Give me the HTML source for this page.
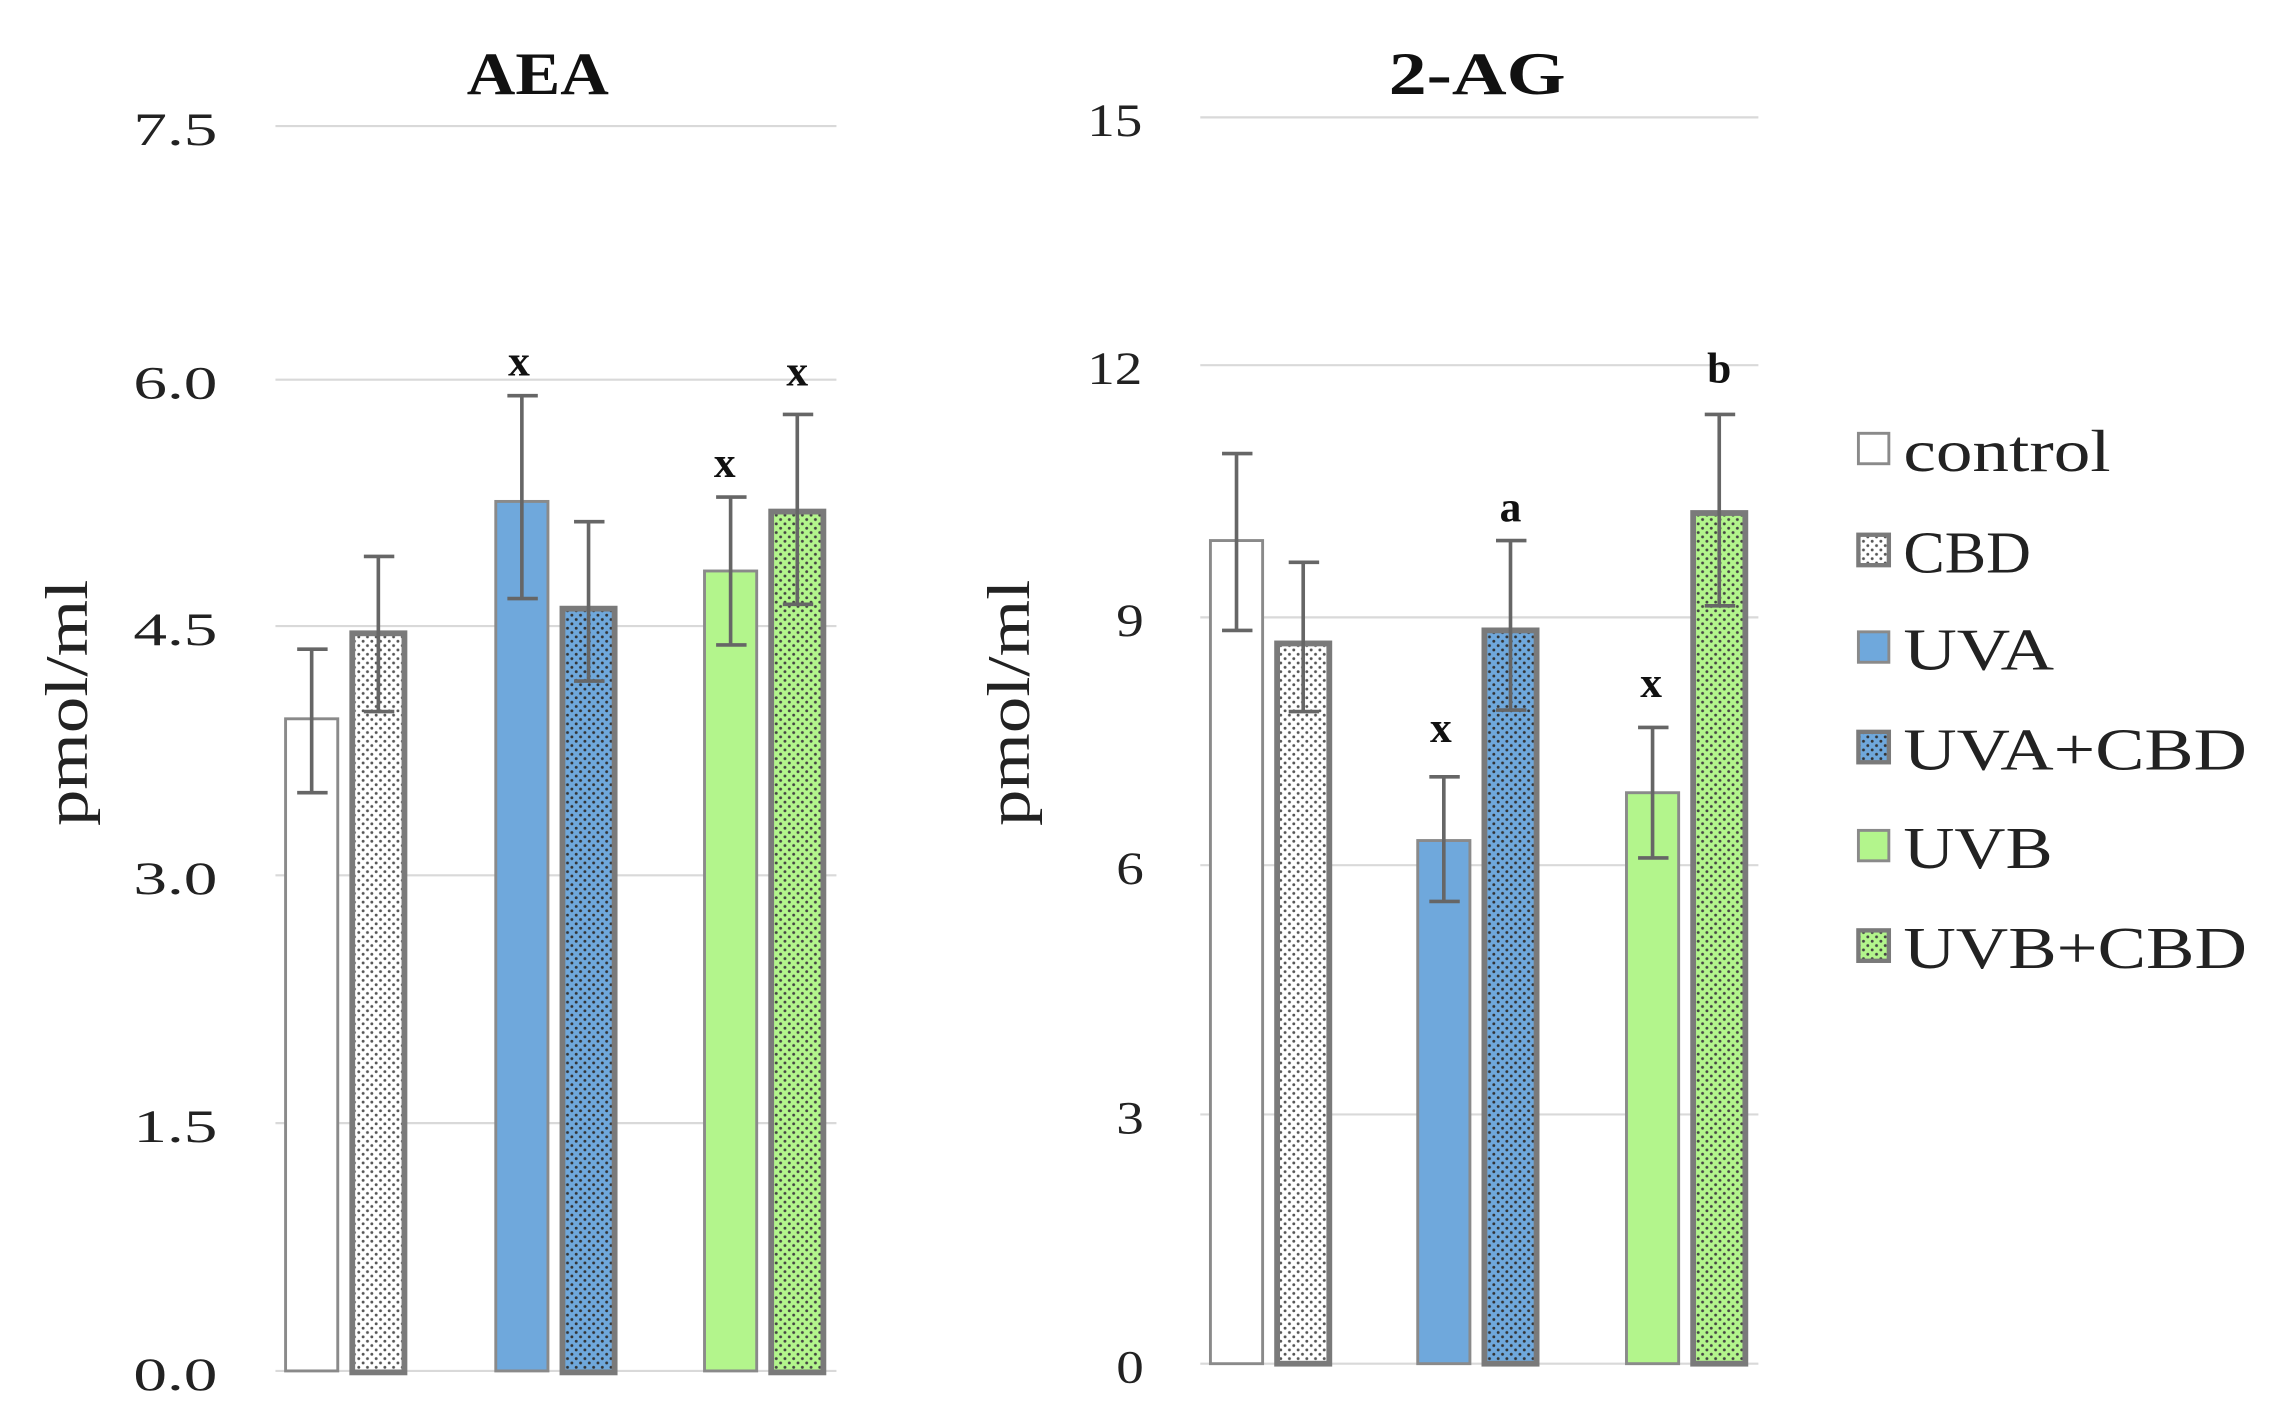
<!DOCTYPE html>
<html><head><meta charset="utf-8"><style>html,body{margin:0;padding:0;background:#fff}svg{display:block}</style></head><body>
<svg width="2273" height="1426" viewBox="0 0 1568 984" preserveAspectRatio="none" xmlns="http://www.w3.org/2000/svg" font-family="'Liberation Serif',serif">
<defs>
<pattern id="pw" width="6" height="6" patternUnits="userSpaceOnUse"><rect width="6" height="6" fill="#fff"/><circle cx="1.5" cy="1.5" r="1" fill="#555"/><circle cx="4.5" cy="4.5" r="1" fill="#555"/></pattern>
<pattern id="pb" width="6" height="6" patternUnits="userSpaceOnUse"><rect width="6" height="6" fill="#6fa8dc"/><circle cx="1.5" cy="1.5" r="1" fill="#333"/><circle cx="4.5" cy="4.5" r="1" fill="#333"/></pattern>
<pattern id="pg" width="6" height="6" patternUnits="userSpaceOnUse"><rect width="6" height="6" fill="#b3f58c"/><circle cx="1.5" cy="1.5" r="1" fill="#444"/><circle cx="4.5" cy="4.5" r="1" fill="#444"/></pattern>
</defs>
<g stroke="#d9d9d9" stroke-width="1.5">
<line x1="190" x2="577" y1="87" y2="87"/><line x1="190" x2="577" y1="262" y2="262"/><line x1="190" x2="577" y1="432" y2="432"/><line x1="190" x2="577" y1="604" y2="604"/><line x1="190" x2="577" y1="775" y2="775"/><line x1="190" x2="577" y1="946" y2="946"/>
<line x1="828" x2="1213" y1="81" y2="81"/><line x1="828" x2="1213" y1="252" y2="252"/><line x1="828" x2="1213" y1="426" y2="426"/><line x1="828" x2="1213" y1="597" y2="597"/><line x1="828" x2="1213" y1="769" y2="769"/><line x1="828" x2="1213" y1="941" y2="941"/>
</g>
<g font-size="32" fill="#222">
<text x="92" y="100" textLength="58" lengthAdjust="spacingAndGlyphs">7.5</text>
<text x="92" y="275" textLength="58" lengthAdjust="spacingAndGlyphs">6.0</text>
<text x="92" y="445" textLength="58" lengthAdjust="spacingAndGlyphs">4.5</text>
<text x="92" y="617" textLength="58" lengthAdjust="spacingAndGlyphs">3.0</text>
<text x="92" y="788" textLength="58" lengthAdjust="spacingAndGlyphs">1.5</text>
<text x="92" y="959" textLength="58" lengthAdjust="spacingAndGlyphs">0.0</text>
<text x="750" y="94" textLength="38" lengthAdjust="spacingAndGlyphs">15</text>
<text x="750" y="265" textLength="38" lengthAdjust="spacingAndGlyphs">12</text>
<text x="770" y="439" textLength="19" lengthAdjust="spacingAndGlyphs">9</text>
<text x="770" y="610" textLength="19" lengthAdjust="spacingAndGlyphs">6</text>
<text x="770" y="782" textLength="19" lengthAdjust="spacingAndGlyphs">3</text>
<text x="770" y="954" textLength="19" lengthAdjust="spacingAndGlyphs">0</text>
</g>
<g font-size="42" font-weight="bold" fill="#111">
<text x="322" y="65" textLength="98" lengthAdjust="spacingAndGlyphs">AEA</text>
<text x="958" y="65" textLength="122" lengthAdjust="spacingAndGlyphs">2-AG</text>
</g>
<g font-size="42" fill="#222">
<text transform="translate(60,570) rotate(-90)" textLength="170" lengthAdjust="spacingAndGlyphs">pmol/ml</text>
<text transform="translate(710,570) rotate(-90)" textLength="170" lengthAdjust="spacingAndGlyphs">pmol/ml</text>
</g>
<g stroke="#8a8a8a" stroke-width="2">
<rect x="197" y="496" width="36" height="450" fill="#fff"/>
<rect x="342" y="346" width="36" height="600" fill="#6fa8dc"/>
<rect x="486" y="394" width="36" height="552" fill="#b3f58c"/>
<rect x="835" y="373" width="36" height="568" fill="#fff"/>
<rect x="978" y="580" width="36" height="361" fill="#6fa8dc"/>
<rect x="1122" y="547" width="36" height="394" fill="#b3f58c"/>
</g>
<g stroke="#7a7a7a" stroke-width="4">
<rect x="243" y="437" width="36" height="510" fill="url(#pw)"/>
<rect x="388" y="420" width="36" height="527" fill="url(#pb)"/>
<rect x="532" y="353" width="36" height="594" fill="url(#pg)"/>
<rect x="881" y="444" width="36" height="497" fill="url(#pw)"/>
<rect x="1024" y="435" width="36" height="506" fill="url(#pb)"/>
<rect x="1168" y="354" width="36" height="587" fill="url(#pg)"/>
</g>
<g stroke="#666" stroke-width="2.5" fill="none">
<path d="M215 448V547M205 448H226M205 547H226"/>
<path d="M261 384V491M251 384H272M251 491H272"/>
<path d="M360 273V413M350 273H371M350 413H371"/>
<path d="M406 360V470M396 360H417M396 470H417"/>
<path d="M504 343V445M494 343H515M494 445H515"/>
<path d="M550 286V417M540 286H561M540 417H561"/>
<path d="M853 313V435M843 313H864M843 435H864"/>
<path d="M899 388V491M889 388H910M889 491H910"/>
<path d="M996 536V622M986 536H1007M986 622H1007"/>
<path d="M1042 373V490M1032 373H1053M1032 490H1053"/>
<path d="M1140 502V592M1130 502H1151M1130 592H1151"/>
<path d="M1186 286V418M1176 286H1197M1176 418H1197"/>
</g>
<g font-size="30" font-weight="bold" text-anchor="middle" fill="#111">
<text x="358" y="259">x</text><text x="500" y="329">x</text><text x="550" y="266">x</text>
<text x="994" y="512">x</text><text x="1042" y="360">a</text><text x="1139" y="481">x</text><text x="1186" y="264">b</text>
</g>
<g stroke-width="3">
<rect x="1282" y="299" width="21" height="21" fill="#fff" stroke="#8a8a8a" stroke-width="2"/>
<rect x="1282" y="369" width="21" height="21" fill="url(#pw)" stroke="#7a7a7a"/>
<rect x="1282" y="436" width="21" height="21" fill="#6fa8dc" stroke="#8a8a8a" stroke-width="2"/>
<rect x="1282" y="505" width="21" height="21" fill="url(#pb)" stroke="#7a7a7a"/>
<rect x="1282" y="573" width="21" height="21" fill="#b3f58c" stroke="#8a8a8a" stroke-width="2"/>
<rect x="1282" y="642" width="21" height="21" fill="url(#pg)" stroke="#7a7a7a"/>
</g>
<g font-size="41" fill="#222">
<text x="1313" y="325" textLength="143" lengthAdjust="spacingAndGlyphs">control</text>
<text x="1313" y="395" textLength="88" lengthAdjust="spacingAndGlyphs">CBD</text>
<text x="1313" y="462" textLength="104" lengthAdjust="spacingAndGlyphs">UVA</text>
<text x="1313" y="531" textLength="237" lengthAdjust="spacingAndGlyphs">UVA+CBD</text>
<text x="1313" y="599" textLength="103" lengthAdjust="spacingAndGlyphs">UVB</text>
<text x="1313" y="668" textLength="237" lengthAdjust="spacingAndGlyphs">UVB+CBD</text>
</g>
</svg>
</body></html>
